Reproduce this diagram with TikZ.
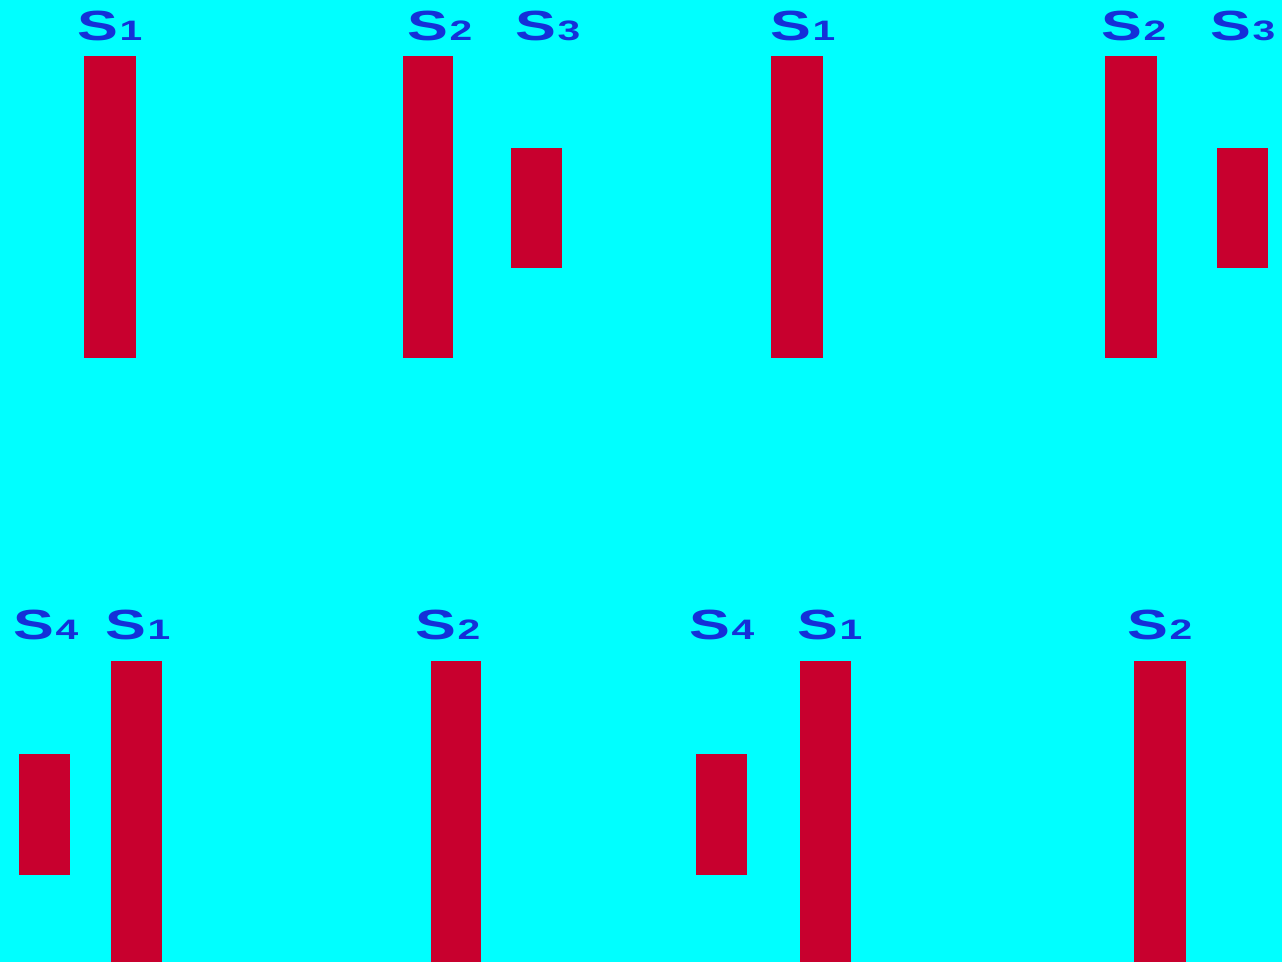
\documentclass[tikz,border=0pt]{standalone}
\usepackage{fontspec}
\setsansfont{Liberation Sans}
\usepackage{graphicx}
\usepackage{tikz}
\usetikzlibrary{positioning}
\definecolor{BgCyan}{HTML}{00FFFF}
\definecolor{BarRed}{HTML}{C8002E}
\definecolor{LabelBlue}{HTML}{1430D8}
\tikzset{
  barfill/.style={fill=BarRed},
  slabel/.style={anchor=base,text=LabelBlue,font=\sffamily\bfseries\fontsize{24}{26}\selectfont,inner sep=0pt}
}
\newcommand{\sw}[1]{\scalebox{1.45}[1]{S\kern0.5pt{\fontsize{16}{18}\selectfont #1}}}

\begin{document}
\begin{tikzpicture}[x=0.2mm,y=-0.2mm]
  \fill[BgCyan] (0,0) rectangle (1282,962);
  \useasboundingbox (0,0) rectangle (1282,962);
  % top row
  \fill[barfill] (84,56) rectangle (136,358);
  \fill[barfill] (403,56) rectangle (453,358);
  \fill[barfill] (511,148) rectangle (562,268);
  \fill[barfill] (771,56) rectangle (823,358);
  \fill[barfill] (1105,56) rectangle (1157,358);
  \fill[barfill] (1217,148) rectangle (1268,268);
  \node[slabel] (ta) at (110,40) {\sw{1}};
  \node[slabel] (tb) at (440,40) {\sw{2}};
  \node[slabel] (tc) at (548,40) {\sw{3}};
  \node[slabel] (td) at (803,40) {\sw{1}};
  \node[slabel] (te) at (1134,40) {\sw{2}};
  \node[slabel] (tf) at (1243,40) {\sw{3}};
  % bottom row
  \fill[barfill] (19,754) rectangle (70,875);
  \fill[barfill] (111,661) rectangle (162,962);
  \fill[barfill] (431,661) rectangle (481,962);
  \fill[barfill] (696,754) rectangle (747,875);
  \fill[barfill] (800,661) rectangle (851,962);
  \fill[barfill] (1134,661) rectangle (1186,962);
  \node[slabel] (ba) at (46,639) {\sw{4}};
  \node[slabel] (bb) at (138,639) {\sw{1}};
  \node[slabel] (bc) at (448,639) {\sw{2}};
  \node[slabel] (bd) at (722,639) {\sw{4}};
  \node[slabel] (be) at (830,639) {\sw{1}};
  \node[slabel] (bf) at (1160,639) {\sw{2}};
\end{tikzpicture}
\end{document}
